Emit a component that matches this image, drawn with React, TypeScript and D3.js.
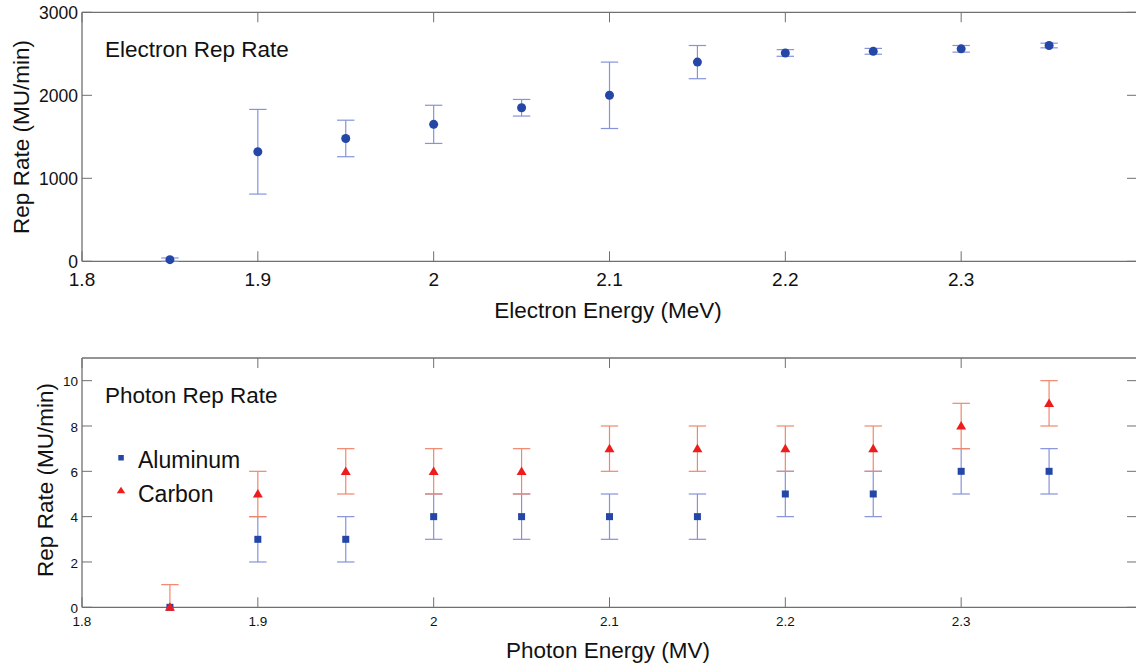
import React from "react";
import * as d3 from "d3";

const energies = [1.85, 1.9, 1.95, 2.0, 2.05, 2.1, 2.15, 2.2, 2.25, 2.3, 2.35];
const electronRate = [20, 1320, 1480, 1650, 1850, 2000, 2400, 2510, 2530, 2560, 2600];
const electronErr = [20, 510, 220, 230, 100, 400, 200, 40, 35, 40, 28];
const aluminumRate = [0, 3, 3, 4, 4, 4, 4, 5, 5, 6, 6];
const aluminumErr = [0, 1, 1, 1, 1, 1, 1, 1, 1, 1, 1];
const carbonRate = [0, 5, 6, 6, 6, 7, 7, 7, 7, 8, 9];
const carbonErr = [1, 1, 1, 1, 1, 1, 1, 1, 1, 1, 1];
const xTicks = [1.8, 1.9, 2.0, 2.1, 2.2, 2.3];
const topYTicks = [0, 1000, 2000, 3000];
const bottomYTicks = [0, 2, 4, 6, 8, 10];

const W = 1136;
const H = 665;
const FONT = "Liberation Sans, Arial, sans-serif";
const AXIS = "#707070";
const BLUE = "#2446a6";
const BLUE_ERR = "#8593da";
const RED = "#ee1c1c";
const RED_ERR = "#f2866a";

const xTop = d3.scaleLinear().domain([1.8, 2.4]).range([82, 1137]);
const yTop = d3.scaleLinear().domain([0, 3000]).range([261.3, 12.3]);
const xBot = d3.scaleLinear().domain([1.8, 2.4]).range([82, 1137]);
const yBot = d3.scaleLinear().domain([0, 11]).range([607.3, 358]);

function fmtX(v: number) {
  return d3.format("~g")(+v.toFixed(2));
}

function Frame({ x, y, yTicks, tickFont, xFont, xBase }: any) {
  const [x0, x1] = x.range();
  const [yb, yt] = y.range();
  const tl = 10;
  return (
    <g>
      <line x1={x0} x2={x1} y1={yb} y2={yb} stroke={AXIS} strokeWidth={1.3} />
      <line x1={x0} x2={x1} y1={yt} y2={yt} stroke={AXIS} strokeWidth={1.3} />
      <line x1={x0} x2={x0} y1={yt} y2={yb} stroke={AXIS} strokeWidth={1.3} />
      <line x1={x1} x2={x1} y1={yt} y2={yb} stroke={AXIS} strokeWidth={1.3} />
      {xTicks.map((t) => (
        <g key={"x" + t}>
          <line x1={x(t)} x2={x(t)} y1={yb} y2={yb - tl} stroke={AXIS} strokeWidth={1} />
          <line x1={x(t)} x2={x(t)} y1={yt} y2={yt + tl} stroke={AXIS} strokeWidth={1} />
          <text x={x(t)} y={yb + xBase} textAnchor="middle" fontSize={xFont} fontFamily={FONT} fill="#111">
            {fmtX(t)}
          </text>
        </g>
      ))}
      {yTicks.map((t: number) => (
        <g key={"y" + t}>
          <line x1={x0} x2={x0 + tl} y1={y(t)} y2={y(t)} stroke={AXIS} strokeWidth={1} />
          <line x1={x1 - tl} x2={x1} y1={y(t)} y2={y(t)} stroke={AXIS} strokeWidth={1} />
          <text x={x0 - 4} y={y(t) + 1} dy="0.35em" textAnchor="end" fontSize={tickFont} fontFamily={FONT} fill="#111">
            {t}
          </text>
        </g>
      ))}
    </g>
  );
}

function ErrBar({ cx, lo, hi, color, clipTop, clipBot }: any) {
  const top = Math.max(hi, clipTop);
  const bot = Math.min(lo, clipBot);
  const cw = 8.7;
  return (
    <g stroke={color} strokeWidth={1.2}>
      <line x1={cx} x2={cx} y1={top} y2={bot} />
      {hi >= clipTop && <line x1={cx - cw} x2={cx + cw} y1={hi} y2={hi} />}
      {lo <= clipBot && <line x1={cx - cw} x2={cx + cw} y1={lo} y2={lo} />}
    </g>
  );
}

const triPath = (w: number, h: number) => `M0,${-h * 0.58}L${w / 2},${h * 0.42}L${-w / 2},${h * 0.42}Z`;

export default function App() {
  return (
    <svg width={W} height={H} style={{ position: "absolute", left: 0, top: 0, background: "#fff" }}>
      {/* Top panel */}
      <Frame x={xTop} y={yTop} yTicks={topYTicks} tickFont={17.5} xFont={19} xBase={25} />
      <text x={105} y={57} fontSize={22.5} fontFamily={FONT} fill="#111">Electron Rep Rate</text>
      <text x={608} y={318} textAnchor="middle" fontSize={22.5} fontFamily={FONT} fill="#111">Electron Energy (MeV)</text>
      <text transform={`translate(29,137) rotate(-90)`} textAnchor="middle" fontSize={22.5} fontFamily={FONT} fill="#111">
        Rep Rate (MU/min)
      </text>
      {energies.map((e, i) => (
        <g key={"el" + i}>
          <ErrBar
            cx={xTop(e)}
            hi={yTop(electronRate[i] + electronErr[i])}
            lo={yTop(electronRate[i] - electronErr[i])}
            color={BLUE_ERR}
            clipTop={yTop(3000)}
            clipBot={yTop(0)}
          />
          <circle cx={xTop(e)} cy={yTop(electronRate[i])} r={4.5} fill={BLUE} />
        </g>
      ))}

      {/* Bottom panel */}
      <Frame x={xBot} y={yBot} yTicks={bottomYTicks} tickFont={13.5} xFont={13.5} xBase={19} />
      <text x={105} y={403} fontSize={22.5} fontFamily={FONT} fill="#111">Photon Rep Rate</text>
      <text x={608} y={658} textAnchor="middle" fontSize={22.5} fontFamily={FONT} fill="#111">Photon Energy (MV)</text>
      <text transform={`translate(53,480) rotate(-90)`} textAnchor="middle" fontSize={22.5} fontFamily={FONT} fill="#111">
        Rep Rate (MU/min)
      </text>
      {energies.map((e, i) => (
        <g key={"al" + i}>
          {aluminumErr[i] > 0 && (
            <ErrBar
              cx={xBot(e)}
              hi={yBot(aluminumRate[i] + aluminumErr[i])}
              lo={yBot(aluminumRate[i] - aluminumErr[i])}
              color={BLUE_ERR}
              clipTop={yBot(11)}
              clipBot={yBot(0)}
            />
          )}
        </g>
      ))}
      {energies.map((e, i) => (
        <g key={"ca" + i}>
          <ErrBar
            cx={xBot(e)}
            hi={yBot(carbonRate[i] + carbonErr[i])}
            lo={yBot(carbonRate[i] - carbonErr[i])}
            color={RED_ERR}
            clipTop={yBot(11)}
            clipBot={yBot(0)}
          />
        </g>
      ))}
      {energies.map((e, i) => (
        <rect key={"als" + i} x={xBot(e) - 3.5} y={yBot(aluminumRate[i]) - 3.5} width={7} height={7} fill={BLUE} />
      ))}
      {energies.map((e, i) => (
        <path key={"cat" + i} d={triPath(10, 8.5)} transform={`translate(${xBot(e)},${yBot(carbonRate[i])})`} fill={RED} />
      ))}

      {/* Legend */}
      <rect x={118.3} y={455} width={5.5} height={5.5} fill={BLUE} />
      <text x={138} y={468} fontSize={23} fontFamily={FONT} fill="#111">Aluminum</text>
      <path d={triPath(8.5, 6.5)} transform="translate(121,490.5)" fill={RED} />
      <text x={138} y={501.5} fontSize={23} fontFamily={FONT} fill="#111">Carbon</text>
    </svg>
  );
}
